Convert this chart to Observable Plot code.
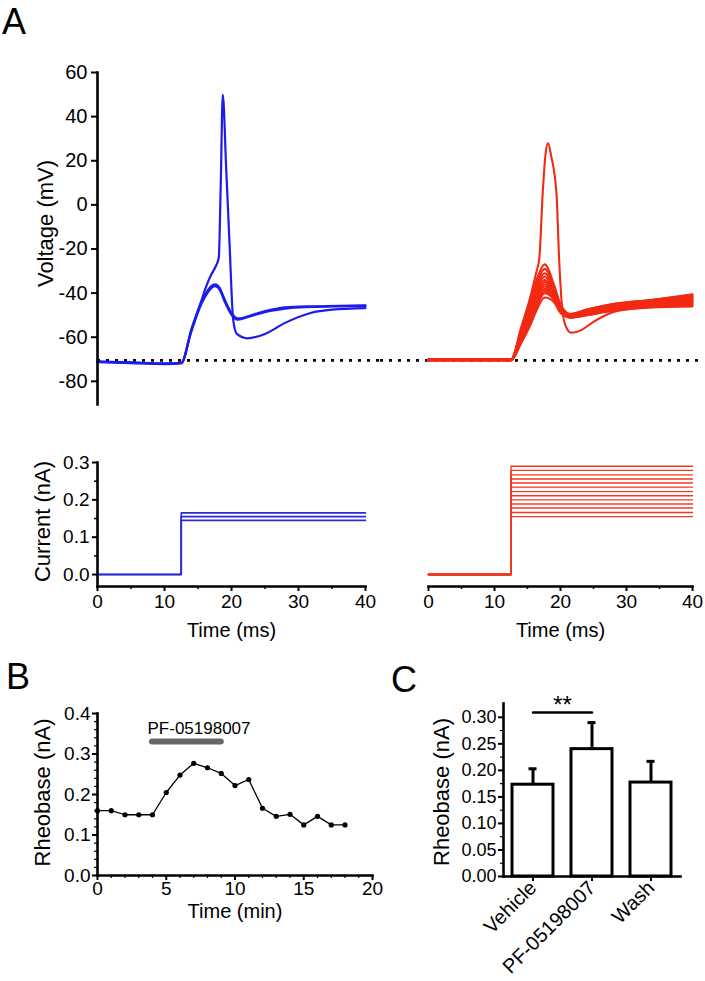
<!DOCTYPE html>
<html><head><meta charset="utf-8">
<script src="https://cdn.jsdelivr.net/npm/d3@7"></script>
<script src="https://cdn.jsdelivr.net/npm/@observablehq/plot@0.6"></script>
<style>
body{margin:0;background:#fff;}
#fig{position:relative;width:705px;height:981px;overflow:hidden;font-family:"Liberation Sans",Arial,sans-serif;background:#fff;}
.panel{position:absolute;}
.letter{position:absolute;font-size:36px;line-height:1.2;color:#000;}
</style></head><body>
<div id="fig">
  <div class="letter" style="left:2px;top:0px">A</div>
  <div class="letter" style="left:6px;top:655px">B</div>
  <div class="letter" style="left:391px;top:658px">C</div>
  <div class="panel" id="vL" style="left:0;top:0"></div>
  <div class="panel" id="vR" style="left:380px;top:0"></div>
  <div class="panel" id="iL" style="left:0;top:420px"></div>
  <div class="panel" id="iR" style="left:380px;top:420px"></div>
  <div class="panel" id="pB" style="left:0;top:690px"></div>
  <div class="panel" id="pC" style="left:380px;top:690px"></div>
</div>
<script>
// ---------- Panel A: voltage traces (ms, mV) ----------
const blueSubTime = [0, 5, 10, 12.5, 14, 15.5, 16.5, 17.2, 17.6, 18.2, 19, 20, 20.9, 22, 24, 26, 28, 32, 36, 40];
const blueSubA = [-71, -71.4, -71.9, -71.6, -57, -44, -38.5, -36.3, -36, -37.5, -43, -49, -51.5, -51, -49, -47.5, -46.5, -46, -45.8, -45.5];
const blueSubB = [-71.3, -71.7, -72.2, -71.9, -57.5, -45, -39.5, -37.2, -36.8, -38.3, -44, -49.8, -52, -51.3, -49.5, -48, -47, -46.3, -46, -45.8];
const blueSpikeTime = [0, 5, 10, 12.5, 14, 15.5, 16.1, 17, 17.7, 18.1, 18.4, 18.7, 19.2, 19.7, 20.25, 20.8, 22.4, 25, 28, 31.8, 35, 40];
const blueSpikeV = [-71.1, -71.5, -72, -71.7, -56.5, -43.5, -38, -31.5, -27.5, -24, 10, 50, 17, -17, -52, -58.5, -60.5, -58.5, -53.5, -49, -47.5, -46.8];

const redSubTime = [0, 12.5, 14, 15.5, 16.5, 17.6, 19, 20, 21.5, 24, 28, 34, 40];
const redSub1  = [-70.0, -70.0, -57, -43, -33, -27, -36, -45, -49.5, -47.5, -45, -43, -40.5];
const redSub2  = [-70.3, -70.3, -58, -44.5, -35, -29, -37, -45.5, -49.5, -47.5, -45, -43, -41];
const redSub3  = [-70.1, -70.1, -58.5, -46, -36.5, -31, -38, -46, -50, -48, -45.5, -43.5, -41.5];
const redSub4  = [-70.4, -70.4, -59, -47, -38, -32.5, -39, -46.5, -50, -48, -46, -44, -42];
const redSub5  = [-70.2, -70.2, -59.5, -48, -39.5, -34, -40, -47, -50.5, -48.5, -46, -44, -42.5];
const redSub6  = [-70.5, -70.5, -60, -49, -40.5, -35, -40.5, -47, -50.5, -48.5, -46.5, -44.5, -43];
const redSub7  = [-70.0, -70.0, -60.5, -50, -41.5, -36, -41, -47.5, -50.5, -49, -46.5, -44.5, -43.5];
const redSub8  = [-70.3, -70.3, -61, -51, -42.5, -37, -41.5, -47.5, -51, -49, -47, -45, -44];
const redSub9  = [-70.1, -70.1, -61.5, -52, -43.5, -38, -42, -48, -51, -49.5, -47, -45, -44.5];
const redSub10 = [-70.4, -70.4, -62, -52.5, -44.5, -39, -42.5, -48, -51, -49.5, -47.5, -45.5, -45];
const redSub11 = [-70.2, -70.2, -62.5, -53, -45.5, -40, -43, -48.5, -51, -50, -47.5, -46, -45.5];
const redSub12 = [-70.5, -70.5, -63, -54, -47, -42, -44, -49, -51, -50, -48, -46.5, -46];
const redSpikeTime = [0, 12.5, 14, 15.5, 16.3, 16.8, 17.3, 17.7, 18.1, 18.6, 19.4, 19.8, 20.3, 20.8, 21.6, 23, 25, 27.6, 31, 35, 40];
const redSpikeV = [-70.2, -70.2, -56, -41, -31, -24, 5, 22, 28, 22, 5, -25, -48, -55, -58, -57, -53, -49, -47, -45, -43.5];

const restingV = -70.5;
const voltTicks = [-80, -60, -40, -20, 0, 20, 40, 60];

// ---------- Panel A: current steps (nA) ----------
const stepOnset = 12.5;
const sweepEnd = 40;
const blueLevels = [0.145, 0.155, 0.165];
const redLevels = [0.155, 0.166, 0.178, 0.189, 0.200, 0.211, 0.222, 0.234, 0.245, 0.256, 0.267, 0.279, 0.290];
const currentTicks = [0.0, 0.1, 0.2, 0.3];
const currentMinor = [0.05, 0.15, 0.25];
const timeTicks = [0, 10, 20, 30, 40];
const timeMinor = [5, 15, 25, 35];

// ---------- Panel B ----------
const minutes = [0, 1, 2, 3, 4, 5, 6, 7, 8, 9, 10, 11, 12, 13, 14, 15, 16, 17, 18];
const rheobase = [0.16, 0.16, 0.15, 0.15, 0.15, 0.205, 0.248, 0.277, 0.266, 0.252, 0.222, 0.237, 0.166, 0.146, 0.151, 0.125, 0.146, 0.125, 0.125];
const drugLabel = "PF-05198007";
const drugStart = 4, drugEnd = 9, drugBarY = 0.331;
const bYTicks = [0.0, 0.1, 0.2, 0.3, 0.4];
const bYMinor = [0.02, 0.04, 0.06, 0.08, 0.12, 0.14, 0.16, 0.18, 0.22, 0.24, 0.26, 0.28, 0.32, 0.34, 0.36, 0.38];
const bXTicks = [0, 5, 10, 15, 20];
const bXMinor = [1, 2, 3, 4, 6, 7, 8, 9, 11, 12, 13, 14, 16, 17, 18, 19];

// ---------- Panel C ----------
const conditions = ["Vehicle", "PF-05198007", "Wash"];
const meanRheobase = [0.173, 0.240, 0.177];
const semRheobase = [0.030, 0.050, 0.040];
const sigPair = ["Vehicle", "PF-05198007"];
const sigY = 0.309;
const sigLabel = "**";
const cYTicks = [0.00, 0.05, 0.10, 0.15, 0.20, 0.25, 0.30];
const cYMinor = [0.025, 0.075, 0.125, 0.175, 0.225, 0.275];

// ---------- styling ----------
const BLUE = "#1c1ceb", RED = "#f22a14", BLUE_I = "#2a2ad8", RED_I = "#ee3a24";
const FONT = "'Liberation Sans', Arial, Helvetica, sans-serif";
const baseStyle = {fontFamily: FONT, color: "black", background: "transparent", overflow: "visible"};
const AXW = 2.6;
const noLabel = () => "";

function traces(timeArr, list) {
  const out = [];
  list.forEach((vals, k) => vals.forEach((v, i) => out.push({t: timeArr[i], v, id: k})));
  return out;
}
const blueData = [
  ...traces(blueSubTime, [blueSubA, blueSubB]),
  ...blueSpikeTime.map((t, i) => ({t, v: blueSpikeV[i], id: "spike"}))
];
const redData = [
  ...traces(redSubTime, [redSub1, redSub2, redSub3, redSub4, redSub5, redSub6, redSub7, redSub8, redSub9, redSub10, redSub11, redSub12]),
  ...redSpikeTime.map((t, i) => ({t, v: redSpikeV[i], id: "spike"}))
];
function steps(levels) {
  const out = [];
  levels.forEach((L, k) => {
    out.push({t: 0, i: 0, id: k}, {t: stepOnset, i: 0, id: k}, {t: stepOnset, i: L, id: k}, {t: sweepEnd, i: L, id: k});
  });
  return out;
}
const yLabel = (txt, dx, dy) => Plot.text([txt], {frameAnchor: "left", textAnchor: "middle", rotate: -90, dx, dy, fontSize: 22});

// Voltage left
document.getElementById("vL").append(Plot.plot({
  width: 380, height: 420, marginLeft: 97, marginRight: 0, marginTop: 72, marginBottom: 16,
  style: baseStyle,
  x: {domain: [0, 42.24], axis: null},
  y: {domain: [-90.5, 60], axis: null},
  marks: [
    Plot.ruleY([restingV], {stroke: "black", strokeWidth: 2.6, strokeDasharray: "3,6"}),
    Plot.line(blueData, {x: "t", y: "v", z: "id", stroke: BLUE, strokeWidth: 2.2, curve: "monotone-x"}),
    Plot.frame({anchor: "left", stroke: "black", strokeWidth: AXW}),
    Plot.axisY({ticks: voltTicks, tickSize: 6, tickPadding: 4, fontSize: 20, strokeWidth: 2, tickFormat: d => String(d), label: null}),
    yLabel("Voltage (mV)", -52, -15)
  ]
}));

// Voltage right
document.getElementById("vR").append(Plot.plot({
  width: 325, height: 420, marginLeft: 0, marginRight: 2, marginTop: 72, marginBottom: 16,
  style: baseStyle,
  x: {domain: [-7.27, 41.67], axis: null},
  y: {domain: [-90.5, 60], axis: null},
  marks: [
    Plot.ruleY([restingV], {stroke: "black", strokeWidth: 2.6, strokeDasharray: "3,6"}),
    Plot.line(redData, {x: "t", y: "v", z: "id", stroke: RED, strokeWidth: 2.1, curve: "monotone-x"})
  ]
}));

// Current left
document.getElementById("iL").append(Plot.plot({
  width: 380, height: 220, marginLeft: 97, marginRight: 15, marginTop: 42, marginBottom: 54,
  style: baseStyle,
  x: {domain: [0, 40], axis: null},
  y: {domain: [-0.032, 0.3], axis: null},
  marks: [
    Plot.line(steps(blueLevels), {x: "t", y: "i", z: "id", stroke: BLUE_I, strokeWidth: 1.6}),
    Plot.frame({anchor: "left", stroke: "black", strokeWidth: AXW}),
    Plot.frame({anchor: "bottom", stroke: "black", strokeWidth: AXW}),
    Plot.axisY({ticks: currentTicks, tickSize: 5, tickPadding: 3, fontSize: 19, strokeWidth: 2, tickFormat: d3.format(".1f"), label: null}),
    Plot.axisY({ticks: currentMinor, tickSize: 3, strokeWidth: 1.5, tickFormat: noLabel, label: null}),
    Plot.axisX({ticks: timeTicks, tickSize: 5, tickPadding: 3, fontSize: 19, strokeWidth: 2, label: null}),
    Plot.axisX({ticks: timeMinor, tickSize: 3, strokeWidth: 1.5, tickFormat: noLabel, label: null}),
    yLabel("Current (nA)", -55, -3),
    Plot.text(["Time (ms)"], {frameAnchor: "bottom", dy: 50, fontSize: 20})
  ]
}));

// Current right
document.getElementById("iR").append(Plot.plot({
  width: 325, height: 220, marginLeft: 48, marginRight: 13, marginTop: 42, marginBottom: 54,
  style: baseStyle,
  x: {domain: [0, 40], axis: null},
  y: {domain: [-0.032, 0.3], axis: null},
  marks: [
    Plot.line(steps(redLevels), {x: "t", y: "i", z: "id", stroke: RED_I, strokeWidth: 1.4}),
    Plot.frame({anchor: "bottom", stroke: "black", strokeWidth: AXW}),
    Plot.axisX({ticks: timeTicks, tickSize: 5, tickPadding: 3, fontSize: 19, strokeWidth: 2, label: null}),
    Plot.axisX({ticks: timeMinor, tickSize: 3, strokeWidth: 1.5, tickFormat: noLabel, label: null}),
    Plot.text(["Time (ms)"], {frameAnchor: "bottom", dy: 50, fontSize: 20})
  ]
}));

// Panel B
const bData = minutes.map((m, i) => ({m, r: rheobase[i]}));
document.getElementById("pB").append(Plot.plot({
  width: 380, height: 240, marginLeft: 97, marginRight: 8, marginTop: 23, marginBottom: 55,
  style: baseStyle,
  x: {domain: [0, 20], axis: null},
  y: {domain: [0, 0.4], axis: null},
  marks: [
    Plot.frame({anchor: "left", stroke: "black", strokeWidth: AXW}),
    Plot.frame({anchor: "bottom", stroke: "black", strokeWidth: AXW}),
    Plot.axisY({ticks: bYTicks, tickSize: 5, tickPadding: 2, fontSize: 19, strokeWidth: 2, tickFormat: d3.format(".1f"), label: null}),
    Plot.axisY({ticks: bYMinor, tickSize: 3, strokeWidth: 1.2, tickFormat: noLabel, label: null}),
    Plot.axisX({ticks: bXTicks, tickSize: 5, tickPadding: 1, fontSize: 19, strokeWidth: 2, label: null}),
    Plot.axisX({ticks: bXMinor, tickSize: 3, strokeWidth: 1.2, tickFormat: noLabel, label: null}),
    Plot.ruleY([drugBarY], {x1: drugStart, x2: drugEnd, stroke: "#666", strokeWidth: 6, strokeLinecap: "round"}),
    Plot.text([{x: drugStart, y: drugBarY, label: drugLabel}], {x: "x", y: "y", text: "label", textAnchor: "start", dx: -5, dy: -13, fontSize: 17}),
    Plot.line(bData, {x: "m", y: "r", stroke: "black", strokeWidth: 1.3}),
    Plot.dot(bData, {x: "m", y: "r", r: 2.6, fill: "black", stroke: "none"}),
    yLabel("Rheobase (nA)", -55, -2),
    Plot.text(["Time (min)"], {frameAnchor: "bottom", dy: 42, fontSize: 20})
  ]
}));

// Panel C
const cData = conditions.map((c, i) => ({c, m: meanRheobase[i], e: semRheobase[i], top: meanRheobase[i] + semRheobase[i]}));
const sigData = sigPair.map(c => ({c, y: sigY}));
document.getElementById("pC").append(Plot.plot({
  width: 325, height: 291, marginLeft: 123, marginRight: 25, marginTop: 13, marginBottom: 105,
  style: baseStyle,
  x: {domain: conditions, paddingInner: 0.3, paddingOuter: 0.15, axis: null},
  y: {domain: [0, 0.326], axis: null},
  marks: [
    Plot.ruleX(cData, {x: "c", y1: "m", y2: "top", stroke: "black", strokeWidth: 3}),
    Plot.tickY(cData, {x: "c", y: "top", stroke: "black", strokeWidth: 3, insetLeft: 16.5, insetRight: 16.5}),
    Plot.barY(cData, {x: "c", y: "m", fill: "white", stroke: "black", strokeWidth: 3}),
    Plot.frame({anchor: "left", stroke: "black", strokeWidth: AXW}),
    Plot.frame({anchor: "bottom", stroke: "black", strokeWidth: AXW}),
    Plot.axisY({ticks: cYTicks, tickSize: 5, tickPadding: 2, fontSize: 18, strokeWidth: 2, tickFormat: d3.format(".2f"), label: null}),
    Plot.axisY({ticks: cYMinor, tickSize: 3, strokeWidth: 1.2, tickFormat: noLabel, label: null}),
    Plot.axisX({tickSize: 5, tickPadding: 3, fontSize: 20, strokeWidth: 2, tickRotate: -45, label: null}),
    Plot.line(sigData, {x: "c", y: "y", stroke: "black", strokeWidth: 2.4}),
    Plot.text([{c: sigPair[0], y: sigY, label: sigLabel}], {x: "c", y: "y", text: "label", dx: 29.5, dy: -7, fontSize: 24}),
    yLabel("Rheobase (nA)", -62, 2)
  ]
}));
</script>
</body></html>
